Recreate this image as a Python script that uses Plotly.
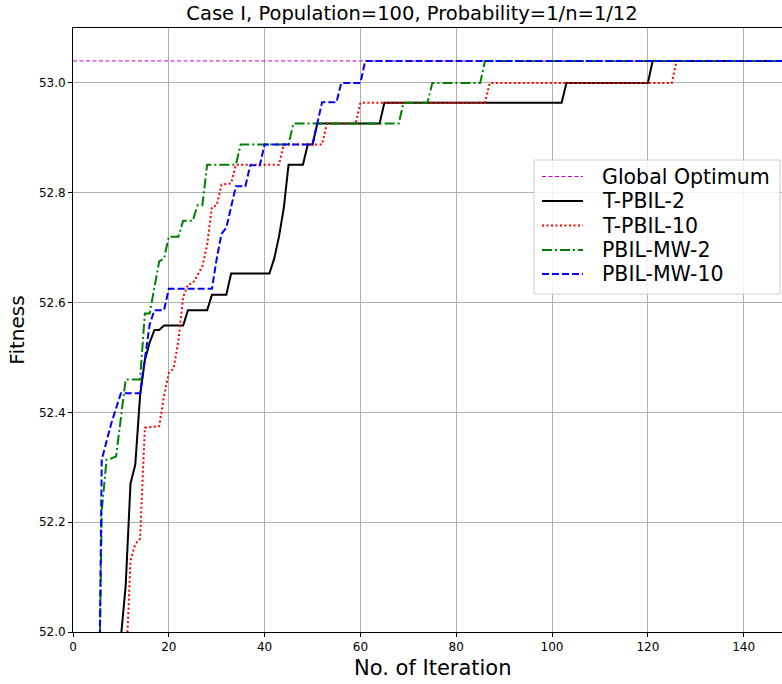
import plotly.graph_objects as go

title_text = "Case I, Population=100, Probability=1/n=1/12"
x_label = "No. of Iteration"
y_label = "Fitness"

global_optimum = 53.04
opt_iter = [0, 149]

# T-PBIL-2 (black solid)
tp2_iter = [9, 10, 11, 12, 13, 14, 15, 16, 17, 18, 19, 23, 24, 28, 29, 32, 33, 41, 42, 43, 44, 45,
            48, 49, 50, 51, 64, 65, 102, 103, 120, 121, 149]
tp2_fit = [51.7, 51.99, 52.085, 52.27, 52.305, 52.43, 52.495, 52.527, 52.55, 52.55, 52.558, 52.558,
           52.586, 52.586, 52.614, 52.614, 52.653, 52.653, 52.68, 52.72, 52.772, 52.851,
           52.851, 52.888, 52.888, 52.926, 52.926, 52.964, 52.964, 53.0, 53.0, 53.04, 53.04]

# T-PBIL-10 (red dotted)
tp10_iter = [10, 11, 12, 13, 14, 15, 18, 19, 20, 21, 22, 23, 24, 25, 26, 27, 28, 29, 30, 31, 33, 34,
             43, 44, 52, 53, 59, 60, 86, 87, 125, 126, 149]
tp10_fit = [51.5, 51.92, 52.13, 52.16, 52.17, 52.372, 52.375, 52.43, 52.472, 52.48, 52.53, 52.61,
            52.633, 52.635, 52.65, 52.666, 52.705, 52.774, 52.777, 52.815, 52.817, 52.851,
            52.851, 52.888, 52.888, 52.926, 52.926, 52.964, 52.964, 53.0, 53.0, 53.04, 53.04]

# PBIL-MW-2 (green dash-dot)
mw2_iter = [5, 6, 7, 8, 9, 10, 11, 14, 15, 16, 17, 18, 19, 20, 22, 23, 25, 26, 27, 28, 34, 35,
            45, 46, 68, 69, 74, 75, 85, 86, 149]
mw2_fit = [51.6, 52.22, 52.314, 52.316, 52.32, 52.39, 52.46, 52.46, 52.58, 52.58, 52.63, 52.675,
           52.68, 52.72, 52.72, 52.749, 52.749, 52.777, 52.777, 52.851, 52.851, 52.888,
           52.888, 52.926, 52.926, 52.964, 52.964, 53.0, 53.0, 53.04, 53.04]

# PBIL-MW-10 (blue dashed)
mw10_iter = [5, 6, 8, 10, 14, 15, 16, 17, 19, 20, 29, 30, 31, 32, 33, 34, 36, 37, 39, 40, 50, 51,
             52, 55, 56, 60, 61, 149]
mw10_fit = [51.5, 52.314, 52.38, 52.435, 52.435, 52.50, 52.56, 52.586, 52.586, 52.625, 52.625,
            52.68, 52.725, 52.736, 52.775, 52.812, 52.812, 52.85, 52.85, 52.888, 52.888, 52.926,
            52.965, 52.965, 53.0, 53.0, 53.04, 53.04]

x_ticks = [0, 20, 40, 60, 80, 100, 120, 140]
y_ticks = [52.0, 52.2, 52.4, 52.6, 52.8, 53.0]

FONT = "DejaVu Sans"
W, H = 782, 684
ML, MR, MT, MB = 73, 0, 28, 52
PW, PH = W - ML - MR, H - MT - MB


def px_x(p):
    return (p - ML) / PW


def px_y(p):
    return (H - MB - p) / PH


styles = [
    ("Global Optimum", dict(color="#bf00bf", width=1, dash="4px,2.5px")),
    ("T-PBIL-2", dict(color="black", width=2)),
    ("T-PBIL-10", dict(color="#ff0000", width=2, dash="2px,2.5px")),
    ("PBIL-MW-2", dict(color="#008000", width=2, dash="10px,3px,2px,3px")),
    ("PBIL-MW-10", dict(color="#0000ff", width=2, dash="7px,3px")),
]
series = [
    (opt_iter, [global_optimum] * len(opt_iter)),
    (tp2_iter, tp2_fit),
    (tp10_iter, tp10_fit),
    (mw2_iter, mw2_fit),
    (mw10_iter, mw10_fit),
]

fig = go.Figure()
for (name, ln), (xs, ys) in zip(styles, series):
    fig.add_trace(go.Scatter(x=xs, y=ys, mode="lines", name=name, line=ln, showlegend=False))

# custom legend (box, line samples, labels)
shapes = [dict(type="rect", xref="paper", yref="paper",
               x0=px_x(534), x1=px_x(780), y0=px_y(294), y1=px_y(160),
               fillcolor="rgba(255,255,255,0.85)", line=dict(color="#cccccc", width=1),
               layer="above")]
annotations = []
item_y = [176.5, 201, 225.5, 250, 274]
for (name, ln), yy in zip(styles, item_y):
    shapes.append(dict(type="line", xref="paper", yref="paper",
                       x0=px_x(542), x1=px_x(583), y0=px_y(yy), y1=px_y(yy),
                       line=ln, layer="above"))
    annotations.append(dict(text=name, xref="paper", yref="paper", x=px_x(600), y=px_y(yy),
                            xanchor="left", yanchor="middle", showarrow=False,
                            font=dict(size=20.5, family=FONT, color="black")))

# x axis label
annotations.append(dict(text=x_label, xref="paper", yref="paper", x=px_x(433), y=px_y(668),
                        xanchor="center", yanchor="middle", showarrow=False,
                        font=dict(size=21, family=FONT, color="black")))

fig.update_layout(
    width=W, height=H,
    margin=dict(l=ML, r=MR, t=MT, b=MB),
    paper_bgcolor="white", plot_bgcolor="white",
    font=dict(family=FONT, color="black"),
    title=dict(text=title_text, xref="container", x=412 / W, xanchor="center",
               yref="container", y=1 - 13 / H, yanchor="middle",
               font=dict(size=19.5, family=FONT)),
    showlegend=False,
    shapes=shapes,
    annotations=annotations,
)
fig.update_xaxes(range=[0, 148], tickvals=x_ticks, ticktext=[str(v) for v in x_ticks],
                 showgrid=True, gridcolor="#b0b0b0", gridwidth=1,
                 showline=True, linecolor="black", linewidth=1, mirror=True,
                 ticks="outside", ticklen=4, tickcolor="black",
                 tickfont=dict(size=12, family=FONT), zeroline=False)
fig.update_yaxes(range=[52.0, 53.1], tickvals=y_ticks, ticktext=[f"{v:.1f}" for v in y_ticks],
                 showgrid=True, gridcolor="#b0b0b0", gridwidth=1,
                 showline=True, linecolor="black", linewidth=1, mirror=True,
                 ticks="outside", ticklen=4, tickcolor="black",
                 tickfont=dict(size=12, family=FONT), zeroline=False,
                 title=dict(text=y_label, font=dict(size=20, family=FONT), standoff=8))

fig.write_html("out.html")
